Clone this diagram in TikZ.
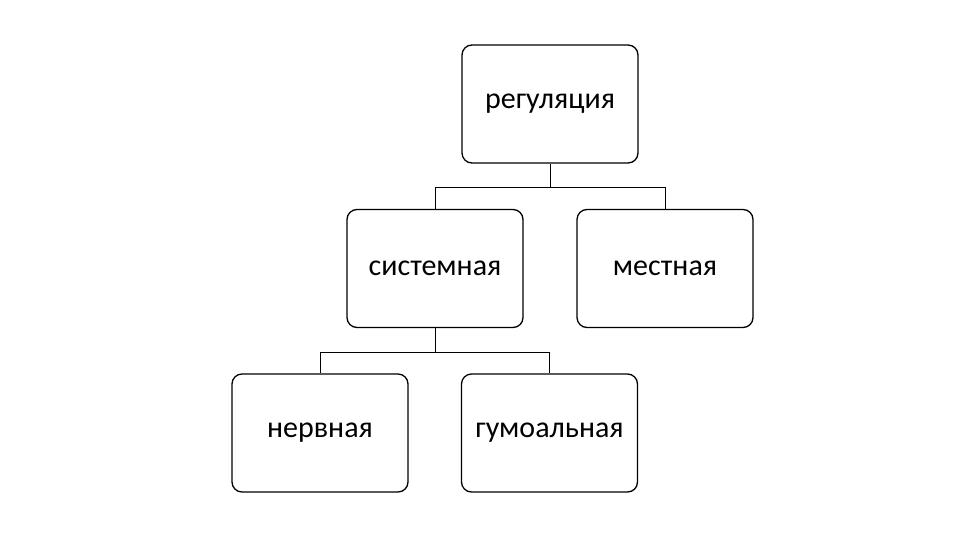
\documentclass[tikz,border=0pt]{standalone}
\usepackage{fontspec}
\setmainfont{Carlito}
\usetikzlibrary{positioning,calc}

\begin{document}
\begin{tikzpicture}[
    x=1pt, y=-1pt,
    unit/.style={draw, rounded corners=10pt, minimum width=176pt, minimum height=118pt, line width=1.3pt, align=center, font=\fontsize{30}{36}\selectfont},
    link/.style={line width=1pt}
]
\useasboundingbox (0,0) rectangle (960,540);

\node[unit] (reg) at (550,104) {регуляция};
\node[unit] (sys) at (435,268.5) {системная};
\node[unit] (loc) at (665,268.5) {местная};
\node[unit] (nerv) at (320,433) {нервная};
\node[unit] (hum) at (549.5,433) {гумоальная};

% bus lines
\coordinate (bus1) at ($(reg.south)+(0,24)$);
\coordinate (bus2) at ($(sys.south)+(0,24)$);
\draw[link] (reg.south) -- (bus1) -| (sys.north);
\draw[link] (bus1) -| (loc.north);
\draw[link] (sys.south) -- (bus2) -| (nerv.north);
\draw[link] (bus2) -| (hum.north);
\end{tikzpicture}
\end{document}
